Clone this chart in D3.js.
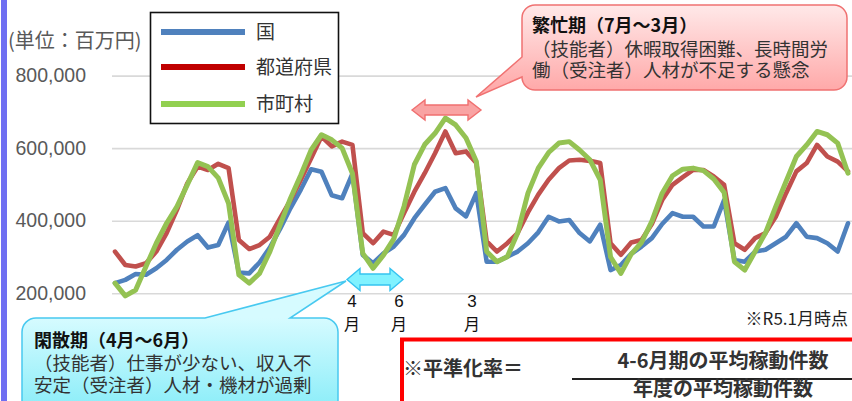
<!DOCTYPE html>
<html>
<head>
<meta charset="utf-8">
<script src="https://cdn.jsdelivr.net/npm/d3@7"></script>
<style>
  html, body { margin: 0; padding: 0; background: #ffffff; overflow: hidden; }
  svg { display: block; }
</style>
</head>
<body>
<svg id="chart" width="852" height="401"></svg>
<script>
// Monthly construction spending (百万円), April through March, six fiscal years
const seriesNames = ["国", "都道府県", "市町村"];

const kuni = [
  228000, 237000, 253000, 251000, 269000, 292000, 320000, 343000, 360000, 326000, 333000, 395000,
  257000, 255000, 285000, 326000, 378000, 435000, 486000, 542000, 535000, 470000, 462000, 530000,
  306000, 283000, 310000, 329000, 361000, 407000, 444000, 480000, 490000, 434000, 412000, 476000,
  287000, 287000, 301000, 315000, 338000, 368000, 411000, 398000, 402000, 366000, 343000, 389000,
  264000, 278000, 309000, 329000, 352000, 391000, 421000, 411000, 411000, 384000, 384000, 457000,
  292000, 287000, 315000, 320000, 338000, 356000, 393000, 356000, 352000, 338000, 315000, 393000
];

const todofuken = [
  315000, 278000, 274000, 283000, 315000, 366000, 430000, 503000, 549000, 540000, 557000, 545000,
  347000, 322000, 333000, 356000, 407000, 457000, 513000, 572000, 632000, 605000, 618000, 609000,
  366000, 338000, 370000, 361000, 421000, 480000, 531000, 586000, 646000, 586000, 591000, 559000,
  343000, 315000, 338000, 366000, 423000, 472000, 513000, 545000, 566000, 568000, 565000, 559000,
  338000, 306000, 340000, 347000, 391000, 457000, 499000, 520000, 540000, 540000, 522000, 499000,
  338000, 320000, 352000, 366000, 411000, 476000, 536000, 559000, 609000, 577000, 563000, 536000
];

const shichoson = [
  228000, 193000, 209000, 274000, 338000, 393000, 439000, 499000, 560000, 549000, 518000, 448000,
  251000, 228000, 255000, 315000, 389000, 462000, 526000, 595000, 637000, 623000, 600000, 530000,
  310000, 269000, 305000, 350000, 440000, 555000, 610000, 641000, 683000, 664000, 628000, 563000,
  315000, 287000, 301000, 366000, 476000, 545000, 588000, 614000, 618000, 595000, 568000, 513000,
  300000, 255000, 308000, 340000, 398000, 476000, 524000, 542000, 545000, 538000, 515000, 478000,
  287000, 264000, 315000, 366000, 439000, 508000, 577000, 609000, 646000, 637000, 614000, 531000
];

const yTicks = [200000, 400000, 600000, 800000];
const unitLabel = "(単位：百万円)";

const busyTitle = "繁忙期（7月～3月）";
const busyLines = ["（技能者）休暇取得困難、長時間労", "働（受注者）人材が不足する懸念"];
const slackTitle = "閑散期（4月～6月）";
const slackLines = ["（技能者）仕事が少ない、収入不", "安定（受注者）人材・機材が過剰"];
const monthMarks = ["4", "6", "3"];
const monthChar = "月";
const asOfNote = "※R5.1月時点";
const formulaLead = "※平準化率＝";
const formulaNum = "4-6月期の平均稼動件数";
const formulaDen = "年度の平均稼動件数";

// ---- layout ----
const JP = "'Noto Sans CJK JP', 'Noto Sans', sans-serif";
const LAT = "'Liberation Sans', Arial, sans-serif";
const plotLeft = 112, plotRight = 852;
const lineColors = ["#4f81bd", "#c0504d", "#94c253"];
const legendColors = ["#4f81bd", "#c00000", "#92d050"];

const svg = d3.select("#chart");
const defs = svg.append("defs");

const x = d3.scaleLinear().domain([0, kuni.length - 1]).range([115, 848]);
const y = d3.scaleLinear().domain([200000, 800000]).range([293.3, 75.6]);

// left accent bar
svg.append("rect").attr("x", 1).attr("y", 0).attr("width", 6).attr("height", 401)
  .attr("fill", "#6f6ff2");

// gridlines
const grid = svg.append("g").attr("transform", `translate(${plotLeft},0)`)
  .call(d3.axisLeft(y).tickValues(yTicks).tickSize(-(plotRight - plotLeft)).tickFormat(""));
grid.select(".domain").remove();
grid.selectAll(".tick line").attr("stroke", "#d9d9d9").attr("stroke-width", 1.6);

// y tick labels
const yAxis = svg.append("g").attr("transform", `translate(${plotLeft},0)`)
  .call(d3.axisLeft(y).tickValues(yTicks).tickSize(0).tickPadding(26).tickFormat(d3.format(",")));
yAxis.select(".domain").remove();
yAxis.selectAll(".tick text")
  .attr("fill", "#595959").attr("font-family", LAT).attr("font-size", 19.5);

// unit label
svg.append("text").attr("x", 8).attr("y", 48)
  .attr("font-family", JP).attr("font-size", 20).attr("fill", "#595959")
  .text(unitLabel);

// series lines
const line = d3.line().x((d, i) => x(i)).y(d => y(d));
[kuni, todofuken, shichoson].forEach((s, k) => {
  svg.append("path").datum(s)
    .attr("d", line)
    .attr("fill", "none")
    .attr("stroke", lineColors[k])
    .attr("stroke-width", k === 2 ? 5 : 4.6)
    .attr("stroke-linejoin", "round")
    .attr("stroke-linecap", "round");
});

// legend
const lg = svg.append("g");
lg.append("rect").attr("x", 150.5).attr("y", 12.5).attr("width", 188).attr("height", 111)
  .attr("fill", "#ffffff").attr("stroke", "#111").attr("stroke-width", 1.6);
const legendY = [32, 67, 104];
seriesNames.forEach((name, k) => {
  lg.append("line").attr("x1", 161).attr("x2", 245).attr("y1", legendY[k]).attr("y2", legendY[k])
    .attr("stroke", legendColors[k]).attr("stroke-width", 6);
  lg.append("text").attr("x", 256).attr("y", legendY[k] + 7)
    .attr("font-family", JP).attr("font-size", 19).attr("fill", "#333")
    .text(name);
});

// double-headed arrows
function dblArrow(x1, x2, cy, sh, hh, hl) {
  return `M${x1},${cy}L${x1 + hl},${cy - hh}V${cy - sh}H${x2 - hl}V${cy - hh}L${x2},${cy}` +
         `L${x2 - hl},${cy + hh}V${cy + sh}H${x1 + hl}V${cy + hh}Z`;
}
svg.append("path").attr("d", dblArrow(412, 481, 110, 5, 10, 13))
  .attr("fill", "#f9a3a3").attr("stroke", "#f07070").attr("stroke-width", 1.4);
svg.append("path").attr("d", dblArrow(347, 403, 279.5, 5.5, 11, 13))
  .attr("fill", "#80f2ff").attr("stroke", "#35c3f0").attr("stroke-width", 1.4);

// month markers under the arrows: digit above, 月 below
const markX = [352, 399, 472];
monthMarks.forEach((m, i) => {
  svg.append("text").attr("x", markX[i]).attr("y", 307).attr("text-anchor", "middle")
    .attr("font-family", LAT).attr("font-size", 17).attr("fill", "#111").text(m);
  svg.append("text").attr("x", markX[i]).attr("y", 330).attr("text-anchor", "middle")
    .attr("font-family", JP).attr("font-size", 16).attr("fill", "#111").text(monthChar);
});

// callout shapes
function gradient(id, y1, y2, c1, c2) {
  const g = defs.append("linearGradient").attr("id", id)
    .attr("gradientUnits", "userSpaceOnUse").attr("x1", 0).attr("x2", 0).attr("y1", y1).attr("y2", y2);
  g.append("stop").attr("offset", 0).attr("stop-color", c1);
  g.append("stop").attr("offset", 1).attr("stop-color", c2);
}
gradient("busyFill", 5, 90, "#ffe9e9", "#ffa9a9");
gradient("slackFill", 318, 405, "#d6fbff", "#8eeef9");

function leftWedgeBox(x0, y0, x1, y1, r, bTop, bBot, tx, ty) {
  return `M${x0 + r},${y0}H${x1 - r}A${r},${r} 0 0 1 ${x1},${y0 + r}V${y1 - r}` +
         `A${r},${r} 0 0 1 ${x1 - r},${y1}H${x0 + r}A${r},${r} 0 0 1 ${x0},${y1 - r}` +
         `V${bBot}L${tx},${ty}L${x0},${bTop}V${y0 + r}A${r},${r} 0 0 1 ${x0 + r},${y0}Z`;
}
function topWedgeBox(x0, y0, x1, y1, r, bL, bR, tx, ty) {
  return `M${x0 + r},${y0}H${bL}L${tx},${ty}L${bR},${y0}H${x1 - r}` +
         `A${r},${r} 0 0 1 ${x1},${y0 + r}V${y1 - r}A${r},${r} 0 0 1 ${x1 - r},${y1}` +
         `H${x0 + r}A${r},${r} 0 0 1 ${x0},${y1 - r}V${y0 + r}A${r},${r} 0 0 1 ${x0 + r},${y0}Z`;
}

svg.append("path").attr("d", leftWedgeBox(522, 5, 847, 90, 13, 57, 77, 476, 97))
  .attr("fill", "url(#busyFill)").attr("stroke", "#f07272").attr("stroke-width", 1.5);
svg.append("path").attr("d", topWedgeBox(22, 318, 338, 420, 14, 205, 290, 346, 281))
  .attr("fill", "url(#slackFill)").attr("stroke", "#48c9f0").attr("stroke-width", 1.5);

function calloutText(x0, baselines, title, lines) {
  svg.append("text").attr("x", x0).attr("y", baselines[0])
    .attr("font-family", JP).attr("font-size", 18).attr("font-weight", "bold").attr("fill", "#111")
    .text(title);
  lines.forEach((l, i) => {
    svg.append("text").attr("x", x0).attr("y", baselines[i + 1])
      .attr("font-family", JP).attr("font-size", 18.5).attr("fill", "#333")
      .text(l);
  });
}
calloutText(532, [32, 55.5, 77], busyTitle, busyLines);
calloutText(34, [347, 370, 391.5], slackTitle, slackLines);

// note
svg.append("text").attr("x", 848).attr("y", 325).attr("text-anchor", "end")
  .attr("font-family", JP).attr("font-size", 17).attr("fill", "#222")
  .text(asOfNote);

// formula box
svg.append("rect").attr("x", 402).attr("y", 339.5).attr("width", 500).attr("height", 100)
  .attr("fill", "#ffffff").attr("stroke", "#ff0000").attr("stroke-width", 4);
svg.append("text").attr("x", 403).attr("y", 376)
  .attr("font-family", JP).attr("font-size", 20).attr("font-weight", "bold").attr("fill", "#333")
  .text(formulaLead);
svg.append("text").attr("x", 723).attr("y", 368).attr("text-anchor", "middle")
  .attr("font-family", JP).attr("font-size", 20).attr("font-weight", "bold").attr("fill", "#333")
  .text(formulaNum);
svg.append("line").attr("x1", 572).attr("x2", 852).attr("y1", 379).attr("y2", 379)
  .attr("stroke", "#222").attr("stroke-width", 2);
svg.append("text").attr("x", 723).attr("y", 396).attr("text-anchor", "middle")
  .attr("font-family", JP).attr("font-size", 20).attr("font-weight", "bold").attr("fill", "#333")
  .text(formulaDen);
</script>
</body>
</html>
